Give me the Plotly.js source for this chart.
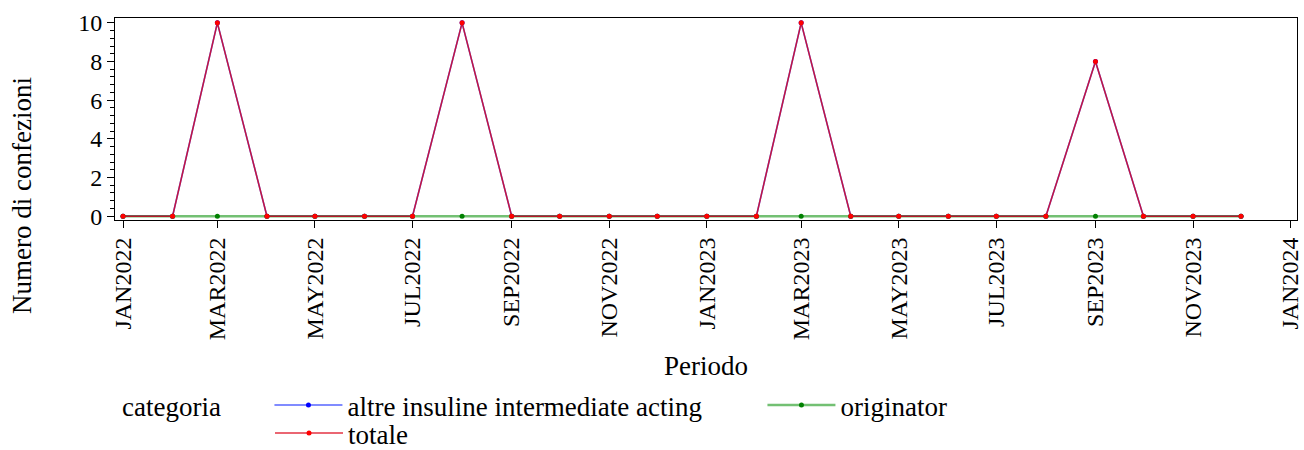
<!DOCTYPE html>
<html>
<head>
<meta charset="utf-8">
<script src="https://cdn.plot.ly/plotly-3.0.1.min.js"></script>
<style>html,body{margin:0;padding:0;background:#fff;}#chart{width:1304px;height:450px;}</style>
</head>
<body>
<div id="chart"></div>
<script>
var periods = ["2022-01-01","2022-02-01","2022-03-01","2022-04-01","2022-05-01","2022-06-01","2022-07-01","2022-08-01","2022-09-01","2022-10-01","2022-11-01","2022-12-01",
               "2023-01-01","2023-02-01","2023-03-01","2023-04-01","2023-05-01","2023-06-01","2023-07-01","2023-08-01","2023-09-01","2023-10-01","2023-11-01","2023-12-01"];
var altreInsuline = [0,0,10,0,0,0,0,10,0,0,0,0, 0,0,10,0,0,0,0,0,8,0,0,0];
var originator    = [0,0,0,0,0,0,0,0,0,0,0,0, 0,0,0,0,0,0,0,0,0,0,0,0];
var totale        = [0,0,10,0,0,0,0,10,0,0,0,0, 0,0,10,0,0,0,0,0,8,0,0,0];
var tickVals = ["2022-01-01","2022-03-01","2022-05-01","2022-07-01","2022-09-01","2022-11-01","2023-01-01","2023-03-01","2023-05-01","2023-07-01","2023-09-01","2023-11-01","2024-01-01"];
var tickText = ["JAN2022","MAR2022","MAY2022","JUL2022","SEP2022","NOV2022","JAN2023","MAR2023","MAY2023","JUL2023","SEP2023","NOV2023","JAN2024"];

var FONT = "'Liberation Serif', serif";
var FS = 24;   // tick labels
var FT = 27;   // titles and legend

var traces = [
  {x: periods, y: altreInsuline, name: "altre insuline intermediate acting", type: "scatter", mode: "lines+markers", legend: "legend",
   line: {color: "rgba(30,50,255,0.75)", width: 1.6}, marker: {color: "#0000ff", size: 5, symbol: "circle"}},
  {x: periods, y: originator, name: "originator", type: "scatter", mode: "lines+markers", legend: "legend",
   line: {color: "rgba(0,140,0,0.55)", width: 2.5}, marker: {color: "#008000", size: 5, symbol: "circle"}},
  {x: periods, y: totale, name: "totale", type: "scatter", mode: "lines+markers", legend: "legend2",
   line: {color: "rgba(220,0,20,0.8)", width: 1.5}, marker: {color: "#ff0000", size: 5, symbol: "circle"}}
];

var layout = {
  width: 1304, height: 450,
  margin: {l: 115, r: 7, t: 18, b: 230, autoexpand: false},
  paper_bgcolor: "#fff", plot_bgcolor: "#fff",
  font: {family: FONT, size: FS, color: "#000"},
  showlegend: true,
  xaxis: {
    type: "date", range: ["2021-12-27", "2024-01-05"],
    tickmode: "array", tickvals: tickVals, ticktext: tickText, tickangle: -90,
    ticks: "outside", ticklen: 7, tickcolor: "#000", tickwidth: 1,
    showline: true, linecolor: "#000", linewidth: 1, mirror: true,
    showgrid: false, zeroline: false,
    tickfont: {family: FONT, size: FS},
    title: {text: "Periodo", font: {family: FONT, size: FT}, standoff: 18}
  },
  yaxis: {
    range: [-0.2, 10.25], tickmode: "linear", tick0: 0, dtick: 2,
    ticks: "outside", ticklen: 7, tickcolor: "#000", tickwidth: 1,
    minor: {dtick: 0.4, tick0: 0, ticks: "outside", ticklen: 4, tickcolor: "#000", showgrid: false},
    showline: true, linecolor: "#000", linewidth: 1, mirror: true,
    showgrid: false, zeroline: false,
    tickfont: {family: FONT, size: FS}
  },
  legend: {
    orientation: "h", xref: "container", yref: "container", x: 120/1304, xanchor: "left", y: 1 - 381/450, yanchor: "top",
    title: {text: "categoria\u00a0\u00a0\u00a0\u00a0\u00a0\u00a0", side: "left", font: {family: FONT, size: FT}},
    font: {family: FONT, size: FT}, entrywidth: 410, entrywidthmode: "pixels", itemwidth: 68,
    tracegroupgap: 0, bgcolor: "rgba(0,0,0,0)"
  },
  legend2: {
    orientation: "h", xref: "container", yref: "container", x: 270/1304, xanchor: "left", y: 1 - 409/450, yanchor: "top",
    font: {family: FONT, size: FT}, itemwidth: 68, bgcolor: "rgba(0,0,0,0)"
  },
  annotations: [
    {text: "Numero di confezioni", xref: "paper", yref: "paper", x: -0.0787, y: 0.124, textangle: -90,
     showarrow: false, xanchor: "center", yanchor: "middle", font: {family: FONT, size: FT}}
  ]
};

Plotly.newPlot("chart", traces, layout, {staticPlot: true, displayModeBar: false});
</script>
</body>
</html>
